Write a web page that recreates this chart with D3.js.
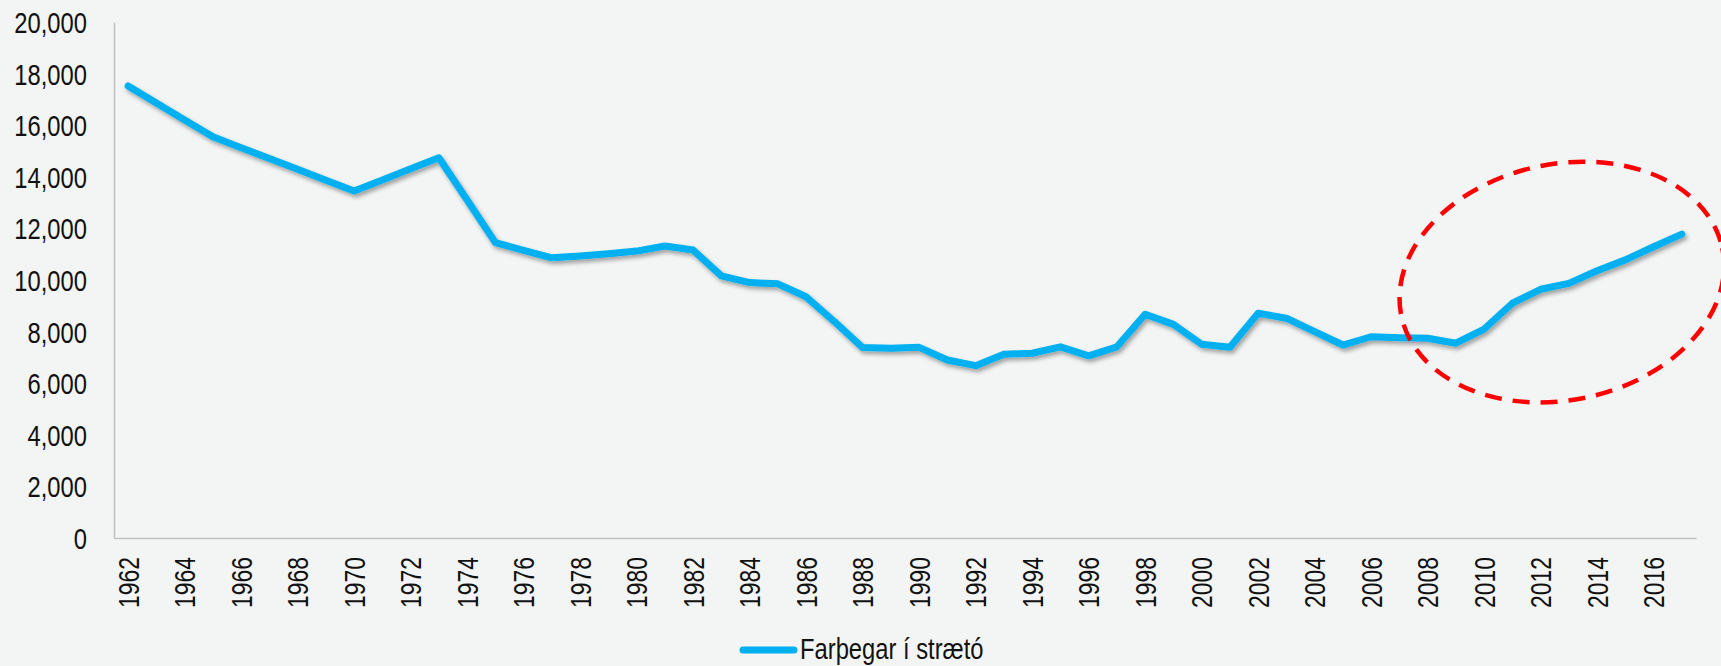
<!DOCTYPE html>
<html>
<head>
<meta charset="utf-8">
<script src="https://cdn.jsdelivr.net/npm/d3@7"></script>
<style>
  html, body { margin: 0; padding: 0; background: #f3f5f4; }
  svg { display: block; }
  .ylab { font-family: "Liberation Sans", Arial, sans-serif; font-size: 29px; fill: #111; }
  .xlab { font-family: "Liberation Sans", Arial, sans-serif; font-size: 29px; fill: #111; }
  .leg { font-family: "Liberation Sans", Arial, sans-serif; font-size: 29px; fill: #111; }
</style>
</head>
<body>
<script>
// years on the category axis
var years = [1962, 1963, 1964, 1965, 1966, 1967, 1968, 1969, 1970, 1971, 1972, 1973, 1974, 1975,
  1976, 1977, 1978, 1979, 1980, 1981, 1982, 1983, 1984, 1985, 1986, 1987, 1988, 1989, 1990, 1991,
  1992, 1993, 1994, 1995, 1996, 1997, 1998, 1999, 2000, 2001, 2002, 2003, 2004, 2005, 2006, 2007,
  2008, 2009, 2010, 2011, 2012, 2013, 2014, 2015, 2016, 2017];

// passengers (thousands)
var passengers = [17520, 16860, 16200, 15550, 15130, 14710, 14290, 13870, 13450, 13880, 14310, 14740,
  13100, 11450, 11150, 10860, 10930, 11020, 11120, 11320, 11160, 10160, 9900, 9850, 9350, 8390,
  7380, 7350, 7390, 6900, 6680, 7120, 7160, 7410, 7060, 7410, 8670, 8280, 7510, 7390, 8710, 8520,
  8000, 7480, 7800, 7760, 7740, 7550, 8100, 9100, 9640, 9870, 10360, 10780, 11290, 11780];

var yTicks = [0, 2000, 4000, 6000, 8000, 10000, 12000, 14000, 16000, 18000, 20000];
var seriesName = "Farþegar í strætó";

var W = 1721, H = 666;
var margin = {top: 22, right: 25, bottom: 128, left: 114};
var width = W - margin.left - margin.right;
var height = H - margin.top - margin.bottom;

// no narrow font installed, so squeeze the sans horizontally (like Arial Narrow)
var narrow = 0.82;

var svg = d3.select("body").append("svg")
    .attr("width", W)
    .attr("height", H);

// drop shadow for the line
var defs = svg.append("defs");
var f = defs.append("filter").attr("id", "shadow")
    .attr("x", "-5%").attr("y", "-5%").attr("width", "110%").attr("height", "120%");
f.append("feDropShadow")
    .attr("dx", 2).attr("dy", 3).attr("stdDeviation", 2)
    .attr("flood-color", "#000").attr("flood-opacity", 0.35);

var g = svg.append("g")
    .attr("transform", "translate(" + margin.left + "," + margin.top + ")");

var x = d3.scaleBand().domain(years).range([0, width]);
var y = d3.scaleLinear().domain([0, 20000]).range([height, 0]);

function cx(yr) { return x(yr) + x.bandwidth() / 2; }

// Y axis
var yAxis = g.append("g")
    .call(d3.axisLeft(y).tickValues(yTicks).tickSize(0).tickFormat(d3.format(",")));
yAxis.select(".domain").attr("stroke", "#c0c0c0").attr("stroke-width", 1.5);
yAxis.selectAll("text")
    .attr("class", "ylab").attr("font-size", null).attr("font-family", null)
    .attr("transform", "scale(" + narrow + ",1)")
    .attr("x", -27 / narrow)
    .attr("dy", "0.36em");

// X axis
var xAxis = g.append("g")
    .attr("transform", "translate(0," + height + ")")
    .call(d3.axisBottom(x).tickValues(years.filter(function(d) { return (d - 1962) % 2 == 0; })).tickSize(0));
xAxis.select(".domain").attr("stroke", "#c0c0c0").attr("stroke-width", 1.5);
xAxis.selectAll("text")
    .attr("class", "xlab").attr("font-size", null).attr("font-family", null)
    .attr("transform", "rotate(-90) scale(0.79,1)")
    .attr("dy", "0.36em")
    .attr("x", -19 / 0.79)
    .attr("y", 0)
    .style("text-anchor", "end");

// data line
var line = d3.line()
    .x(function(d, i) { return cx(years[i]); })
    .y(function(d) { return y(d); });

g.append("path")
    .datum(passengers)
    .attr("d", line)
    .attr("fill", "none")
    .attr("stroke", "#00b0f0")
    .attr("stroke-width", 7)
    .attr("stroke-linejoin", "round")
    .attr("stroke-linecap", "round")
    .attr("filter", "url(#shadow)");

// red dashed ellipse around the recent rise
var ringYear = 2012.75, ringValue = 9920;
var ringX = cx(1962) + (ringYear - 1962) * x.step();
g.append("ellipse")
    .attr("cx", ringX)
    .attr("cy", y(ringValue))
    .attr("rx", 164)
    .attr("ry", 118)
    .attr("transform", "rotate(-12," + ringX + "," + y(ringValue) + ")")
    .attr("fill", "none")
    .attr("stroke", "#ff0000")
    .attr("stroke-width", 4.5)
    .attr("stroke-dasharray", "17,11");

// legend
var legend = svg.append("g").attr("transform", "translate(740,649)");
legend.append("line")
    .attr("x1", 3).attr("x2", 54).attr("y1", 1).attr("y2", 1)
    .attr("stroke", "#00b0f0").attr("stroke-width", 7).attr("stroke-linecap", "round");
legend.append("text")
    .attr("class", "leg")
    .attr("transform", "scale(" + narrow + ",1)")
    .attr("x", 60 / narrow).attr("y", 0).attr("dy", "0.33em")
    .text(seriesName);
</script>
</body>
</html>
